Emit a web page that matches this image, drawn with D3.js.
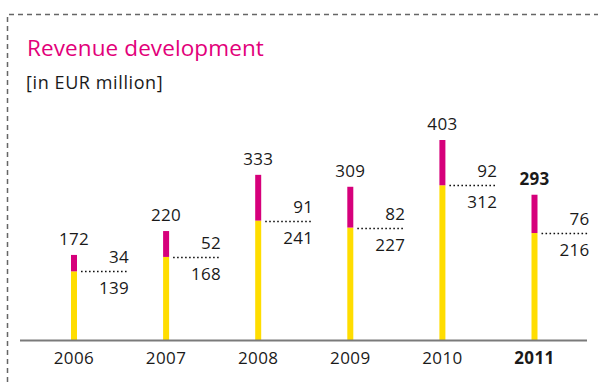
<!DOCTYPE html>
<html>
<head>
<meta charset="utf-8">
<script src="https://cdn.jsdelivr.net/npm/d3@7"></script>
<style>
  body { margin: 0; background: #fff; }
  text { font-family: "Open Sans", "Noto Sans", sans-serif; fill: #1a1a1a; }
</style>
</head>
<body>
<div id="chart"></div>
<script>
// data
var years = ['2006', '2007', '2008', '2009', '2010', '2011'];
var totals = [172, 220, 333, 309, 403, 293];
var upper = [34, 52, 91, 82, 92, 76];     // magenta part
var lower = [139, 168, 241, 227, 312, 216]; // yellow part

var svgWidth = 598;
var svgHeight = 382;

var svg = d3.select('#chart')
    .append('svg')
    .attr('width', svgWidth)
    .attr('height', svgHeight);

// dashed frame (top + left)
svg.append('path')
    .attr('d', 'M7.5,382 L7.5,14.5 L598,14.5')
    .attr('fill', 'none')
    .attr('stroke', '#666')
    .attr('stroke-width', 1.5)
    .attr('stroke-dasharray', '5,4');

// titles
svg.append('text')
    .attr('x', 27)
    .attr('y', 56)
    .style('font-size', '22.5px')
    .style('letter-spacing', '0.1px')
    .style('fill', '#e2007a')
    .text('Revenue development');

svg.append('text')
    .attr('x', 26)
    .attr('y', 89)
    .style('font-size', '18px')
    .style('letter-spacing', '0.6px')
    .text('[in EUR million]');

var data = years.map(function(y, i) {
    return { year: y, total: totals[i], up: upper[i], low: lower[i], last: i === years.length - 1 };
});

// scales
var xScale = d3.scalePoint()
    .domain(years)
    .range([74, 534.5]);

var baseY = 340.5;
var yScale = d3.scaleLinear()
    .domain([0, 400])
    .range([baseY, baseY - 199]);

var barW = 6;

// bars
var bars = svg.selectAll('.bar')
    .data(data)
    .enter()
    .append('g')
    .attr('class', 'bar');

bars.append('rect')
    .attr('x', d => xScale(d.year) - barW / 2)
    .attr('y', d => yScale(d.low))
    .attr('width', barW)
    .attr('height', d => baseY - yScale(d.low))
    .attr('fill', '#ffdd00');

bars.append('rect')
    .attr('x', d => xScale(d.year) - barW / 2)
    .attr('y', d => yScale(d.total))
    .attr('width', barW)
    .attr('height', d => yScale(d.low) - yScale(d.total))
    .attr('fill', '#d6007b');

// dotted split lines
bars.append('line')
    .attr('x1', d => xScale(d.year) + barW / 2 + 4)
    .attr('x2', d => xScale(d.year) + 54)
    .attr('y1', d => Math.round(yScale(d.low)) + 0.5)
    .attr('y2', d => Math.round(yScale(d.low)) + 0.5)
    .attr('stroke', '#111')
    .attr('stroke-width', 1.6)
    .attr('stroke-dasharray', '1.6,2.4');

// value labels
bars.append('text')
    .attr('x', d => xScale(d.year))
    .attr('y', d => yScale(d.total) - 10)
    .attr('text-anchor', 'middle')
    .style('font-size', '17px')
    .style('letter-spacing', '0.3px')
    .style('font-weight', d => d.last ? 'bold' : 'normal')
    .text(d => d.total);

bars.append('text')
    .attr('x', d => xScale(d.year) + 55)
    .attr('y', d => yScale(d.low) - 8)
    .attr('text-anchor', 'end')
    .style('font-size', '17px')
    .style('letter-spacing', '0.3px')
    .text(d => d.up);

bars.append('text')
    .attr('x', d => xScale(d.year) + 55)
    .attr('y', d => yScale(d.low) + 23)
    .attr('text-anchor', 'end')
    .style('font-size', '17px')
    .style('letter-spacing', '0.3px')
    .text(d => d.low);

// x axis
svg.append('line')
    .attr('x1', 20)
    .attr('x2', 587)
    .attr('y1', baseY)
    .attr('y2', baseY)
    .attr('stroke', '#7a7a7a')
    .attr('stroke-width', 2);

svg.selectAll('.yearLabel')
    .data(data)
    .enter()
    .append('text')
    .attr('class', 'yearLabel')
    .attr('x', d => xScale(d.year))
    .attr('y', 364)
    .attr('text-anchor', 'middle')
    .style('font-size', '17px')
    .style('letter-spacing', '0.4px')
    .style('font-weight', d => d.last ? 'bold' : 'normal')
    .text(d => d.year);
</script>
</body>
</html>
